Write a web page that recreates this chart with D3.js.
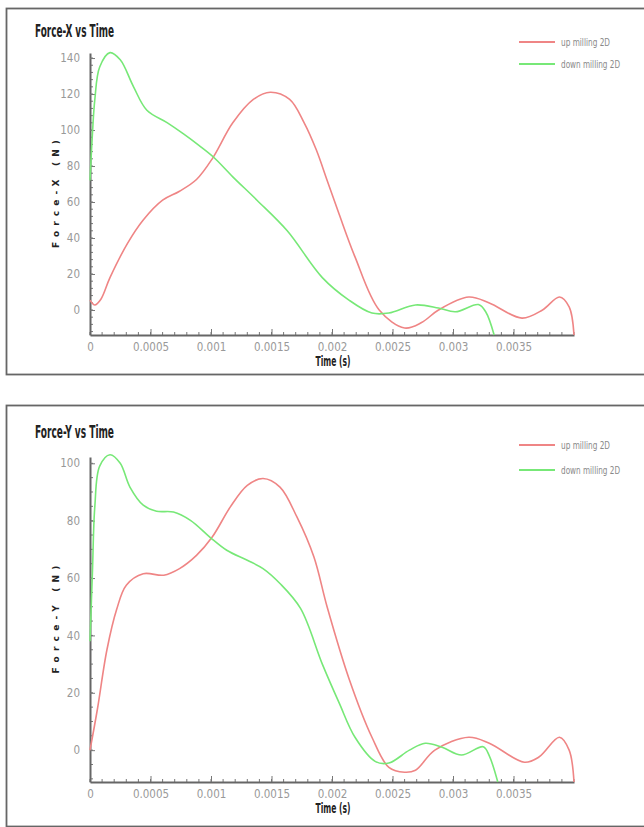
<!DOCTYPE html>
<html>
<head>
<meta charset="utf-8">
<script src="https://cdn.jsdelivr.net/npm/d3@7"></script>
<style>
    body { margin: 0; background: #fff; }
    svg { display: block; }
    .narrow { font-family: "Liberation Sans Narrow", "Arial Narrow", "DejaVu Sans Condensed", sans-serif; }
</style>
</head>
<body>
<div id="chart"></div>
<script>
var width = 644, height = 827;

// time (s), force (N)
var upX = [[0, 5.5], [0.00004, 2.8], [0.00009, 6], [0.000165, 18], [0.00031, 37], [0.00044, 50],
    [0.0006, 61], [0.00074, 66], [0.00088, 72.5], [0.00101, 84], [0.00118, 104], [0.00135, 117],
    [0.00149, 121], [0.00165, 117], [0.00177, 104], [0.00187, 89], [0.00196, 72], [0.00206, 53],
    [0.00219, 29.5], [0.00239, 0], [0.0026, -10], [0.00274, -7], [0.00288, 0], [0.00313, 7.2],
    [0.0033, 3.9], [0.00357, -4.5], [0.00374, 0], [0.00388, 7.2], [0.00396, 1.7], [0.004, -13.9]];
var downX = [[0, 72], [0.00002, 98], [0.00004, 117], [0.00008, 135], [0.000165, 143], [0.00025, 139],
    [0.00036, 124], [0.00047, 111], [0.00064, 104], [0.00077, 98], [0.0009, 91.5], [0.00102, 85],
    [0.00118, 74], [0.00138, 61], [0.00163, 44], [0.00192, 18], [0.00214, 5.5], [0.00233, -1.7],
    [0.00247, -1.7], [0.00269, 2.8], [0.00288, 1.1], [0.00302, -1], [0.00321, 3], [0.00327, -1],
    [0.00334, -13.9]];
var upY = [[0, 0], [0.00006, 14], [0.00014, 35], [0.00022, 49], [0.0003, 57.5], [0.00044, 61.5],
    [0.00061, 61], [0.00074, 63.3], [0.00088, 67.9], [0.00101, 74.3], [0.00116, 84.8], [0.0013, 92.3],
    [0.00143, 94.7], [0.00157, 91.7], [0.00171, 81.3], [0.00185, 67.4], [0.00196, 49.9], [0.00214, 25],
    [0.00233, 4.5], [0.00247, -6], [0.0026, -7.7], [0.00269, -7], [0.00285, 0], [0.00313, 4.5],
    [0.0033, 2.4], [0.00359, -4.2], [0.00371, -2.4], [0.00388, 4.5], [0.00396, 0], [0.004, -11.1]];
var downY = [[0, 38], [0.00002, 62], [0.00004, 85], [0.00008, 99], [0.000165, 103], [0.00025, 100],
    [0.00033, 91.7], [0.00044, 85.4], [0.00055, 83.3], [0.00069, 83], [0.00083, 80.1], [0.00099, 74.3],
    [0.00113, 69.7], [0.0013, 66.2], [0.00143, 63.3], [0.00157, 58.1], [0.00174, 49.4], [0.00192, 30],
    [0.00206, 16.4], [0.00219, 4.5], [0.00236, -4], [0.00247, -4.5], [0.00264, 0], [0.00277, 2.4],
    [0.00291, 1], [0.00307, -1.7], [0.00325, 1.2], [0.0033, -2], [0.00337, -11.1]];

var timeTicks = [0, 0.0005, 0.001, 0.0015, 0.002, 0.0025, 0.003, 0.0035];
var timeLabels = ["0", "0.0005", "0.001", "0.0015", "0.002", "0.0025", "0.003", "0.0035"];
var forceXTicks = [0, 20, 40, 60, 80, 100, 120, 140];
var forceYTicks = [0, 20, 40, 60, 80, 100];
var seriesNames = ["up milling 2D", "down milling 2D"];
var seriesColors = ["#ef8585", "#77e877"];

var panels = [
    {title: "Force-X vs Time", yLabel: "Force-X (N)", top: 8, bottom: 374, titleY: 37,
     plotTop: 53, plotBottom: 335, yDomain: [-13.9, 142.8], yTicks: forceXTicks, yMinor: 4,
     legendY: [42, 64], series: [upX, downX]},
    {title: "Force-Y vs Time", yLabel: "Force-Y (N)", top: 405, bottom: 826, titleY: 438,
     plotTop: 457, plotBottom: 782, yDomain: [-11.1, 102.2], yTicks: forceYTicks, yMinor: 5,
     legendY: [445, 470], series: [upY, downY]}
];

var svg = d3.select("#chart").append("svg")
    .attr("width", width)
    .attr("height", height);

var x = d3.scaleLinear()
    .domain([0, 0.004])
    .range([90, 574]);

var minorTime = d3.range(0, 0.0040001, 0.0001);

panels.forEach(function(p) {
    var g = svg.append("g");

    // panel frame
    g.append("rect")
        .attr("x", 6.5)
        .attr("y", p.top + 0.5)
        .attr("width", 660)
        .attr("height", p.bottom - p.top)
        .style("fill", "none")
        .style("stroke", "#666")
        .style("stroke-width", 1.8);

    var y = d3.scaleLinear()
        .domain(p.yDomain)
        .range([p.plotBottom, p.plotTop]);

    // minor ticks
    g.append("g").selectAll("line").data(minorTime).enter().append("line")
        .attr("x1", function(d) { return x(d); })
        .attr("x2", function(d) { return x(d); })
        .attr("y1", p.plotBottom)
        .attr("y2", p.plotBottom - 3)
        .style("stroke", "#777");

    var yMinor = d3.range(Math.ceil(p.yDomain[0] / p.yMinor) * p.yMinor, p.yDomain[1], p.yMinor);
    g.append("g").selectAll("line").data(yMinor).enter().append("line")
        .attr("x1", 90)
        .attr("x2", 93)
        .attr("y1", function(d) { return y(d); })
        .attr("y2", function(d) { return y(d); })
        .style("stroke", "#777");

    var xAxis = d3.axisBottom(x)
        .tickValues(timeTicks)
        .tickFormat(function(d, i) { return timeLabels[i]; })
        .tickSize(-6)
        .tickSizeOuter(0)
        .tickPadding(8);

    var yAxis = d3.axisLeft(y)
        .tickValues(p.yTicks)
        .tickSize(-5)
        .tickSizeOuter(0)
        .tickPadding(10);

    var xAxisLine = g.append("g")
        .attr("class", "x axis narrow")
        .attr("transform", "translate(0," + p.plotBottom + ")")
        .call(xAxis);

    var yAxisLine = g.append("g")
        .attr("class", "y axis narrow")
        .attr("transform", "translate(90,0)")
        .call(yAxis);

    [xAxisLine, yAxisLine].forEach(function(a) {
        a.select(".domain").style("stroke", "#666").style("stroke-width", 2);
        a.selectAll(".tick line").style("stroke", "#777");
        a.selectAll(".tick text")
            .style("font-size", "11.5px")
            .style("fill", "#999");
    });

    // curves
    var line = d3.line()
        .curve(d3.curveCatmullRom.alpha(0.5))
        .x(function(d) { return x(d[0]); })
        .y(function(d) { return y(d[1]); });

    p.series.forEach(function(s, i) {
        g.append("path")
            .datum(s)
            .attr("d", line)
            .style("fill", "none")
            .style("stroke", seriesColors[i])
            .style("stroke-width", 1.6);
    });

    // texts
    g.append("text")
        .attr("class", "narrow")
        .attr("x", 35)
        .attr("y", p.titleY)
        .attr("textLength", 79)
        .attr("lengthAdjust", "spacingAndGlyphs")
        .style("font-size", "17px")
        .style("font-weight", "bold")
        .style("fill", "#222")
        .text(p.title);

    g.append("text")
        .attr("class", "narrow")
        .attr("x", 333)
        .attr("y", p.plotBottom + 31)
        .attr("text-anchor", "middle")
        .attr("textLength", 35)
        .attr("lengthAdjust", "spacingAndGlyphs")
        .style("font-size", "14px")
        .style("font-weight", "bold")
        .style("fill", "#222")
        .text("Time (s)");

    g.append("text")
        .attr("transform", "translate(59," + (p.plotTop + p.plotBottom) / 2 + ") rotate(-90)")
        .attr("text-anchor", "middle")
        .attr("textLength", 108)
        .attr("lengthAdjust", "spacing")
        .style("font-family", "'DejaVu Sans', sans-serif")
        .style("font-size", "9px")
        .style("font-weight", "bold")
        .style("fill", "#222")
        .text(p.yLabel);

    // legend
    seriesNames.forEach(function(name, i) {
        g.append("line")
            .attr("x1", 519)
            .attr("x2", 555)
            .attr("y1", p.legendY[i])
            .attr("y2", p.legendY[i])
            .style("stroke", seriesColors[i])
            .style("stroke-width", 2);
        g.append("text")
            .attr("class", "narrow")
            .attr("x", 561)
            .attr("y", p.legendY[i] + 4)
            .attr("textLength", i === 0 ? 49 : 59)
            .attr("lengthAdjust", "spacingAndGlyphs")
            .style("font-size", "10px")
            .style("fill", "#888")
            .text(name);
    });
});
</script>
</body>
</html>
